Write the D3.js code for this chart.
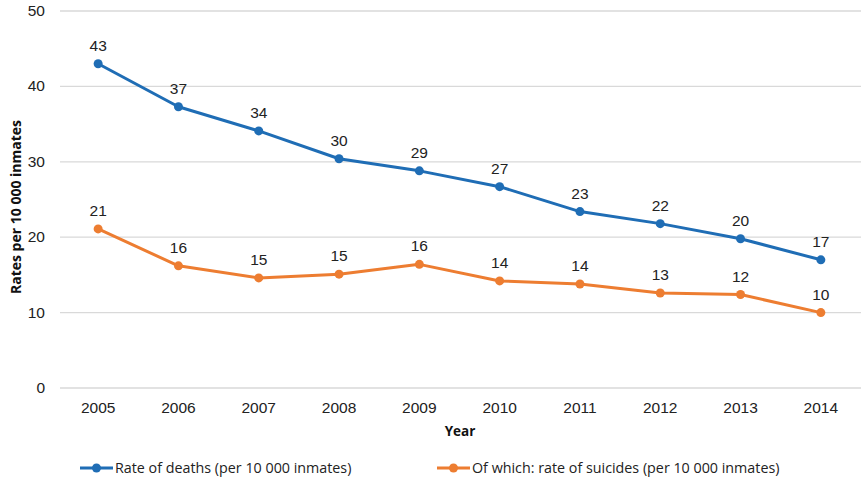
<!DOCTYPE html>
<html><head><meta charset="utf-8">
<script src="https://cdn.jsdelivr.net/npm/d3@7"></script>
<style>body{margin:0;background:#fff}</style>
</head><body>
<svg id="c" width="861" height="482"></svg>
<script>
const years = ["2005","2006","2007","2008","2009","2010","2011","2012","2013","2014"];
const deaths = [43.0,37.3,34.1,30.4,28.8,26.7,23.4,21.8,19.8,17.0];
const suicides = [21.1,16.2,14.6,15.1,16.4,14.2,13.8,12.6,12.4,10.0];
const yTicks = [0,10,20,30,40,50];
const seriesNames = ["Rate of deaths (per 10 000 inmates)","Of which: rate of suicides (per 10 000 inmates)"];
const colors = ["#1f6db5","#ed7d31"];

const svg = d3.select("#c");
const x = d3.scaleBand().domain(years).range([58,861]);
const y = d3.scaleLinear().domain([0,50]).range([388,11]);
const font = "Liberation Sans, Arial, sans-serif";
const cond = "'Open Sans', sans-serif";

svg.append("g").selectAll("line").data(yTicks).join("line")
  .attr("x1",60).attr("x2",861).attr("y1",d=>y(d)).attr("y2",d=>y(d))
  .attr("stroke","#d9d9d9").attr("stroke-width",1.3);
svg.append("g").selectAll("text").data(yTicks).join("text")
  .attr("x",45).attr("y",d=>y(d)+5).attr("text-anchor","end")
  .attr("font-family",font).attr("font-size",15.5).attr("fill","#222").text(d=>d);
svg.append("g").selectAll("text").data(years).join("text")
  .attr("x",d=>x(d)+x.bandwidth()/2).attr("y",413).attr("text-anchor","middle")
  .attr("font-family",font).attr("font-size",15.5).attr("fill","#222").text(d=>d);
svg.append("text").attr("x",460).attr("y",436).attr("text-anchor","middle")
  .attr("font-family",cond).attr("font-weight","bold").attr("font-size",13.5).attr("fill","#111").text("Year");
svg.append("text").attr("transform","translate(21,207) rotate(-90)").attr("text-anchor","middle")
  .attr("font-family",cond).attr("font-weight","bold").attr("font-size",14).attr("fill","#111").text("Rates per 10 000 inmates");

const line = d3.line().x((d,i)=>x(years[i])+x.bandwidth()/2).y(d=>y(d));
[deaths,suicides].forEach((s,k)=>{
  svg.append("path").datum(s).attr("d",line).attr("fill","none")
    .attr("stroke",colors[k]).attr("stroke-width",3).attr("stroke-linejoin","round");
  svg.append("g").selectAll("circle").data(s).join("circle")
    .attr("cx",(d,i)=>x(years[i])+x.bandwidth()/2).attr("cy",d=>y(d)).attr("r",4.5).attr("fill",colors[k]);
  svg.append("g").selectAll("text").data(s).join("text")
    .attr("x",(d,i)=>x(years[i])+x.bandwidth()/2).attr("y",d=>y(d)-13).attr("text-anchor","middle")
    .attr("font-family",font).attr("font-size",15.5).attr("fill","#222").text(d=>Math.round(d));
});

const legX = [80,437];
seriesNames.forEach((n,k)=>{
  const g = svg.append("g").attr("transform",`translate(${legX[k]},468)`);
  g.append("line").attr("x1",0).attr("x2",33).attr("y1",0).attr("y2",0).attr("stroke",colors[k]).attr("stroke-width",3);
  g.append("circle").attr("cx",16.5).attr("cy",0).attr("r",4.5).attr("fill",colors[k]);
  g.append("text").attr("x",35).attr("y",5).attr("font-family",cond).attr("font-size",14.3).attr("fill","#222").text(n);
});
</script>
</body></html>
